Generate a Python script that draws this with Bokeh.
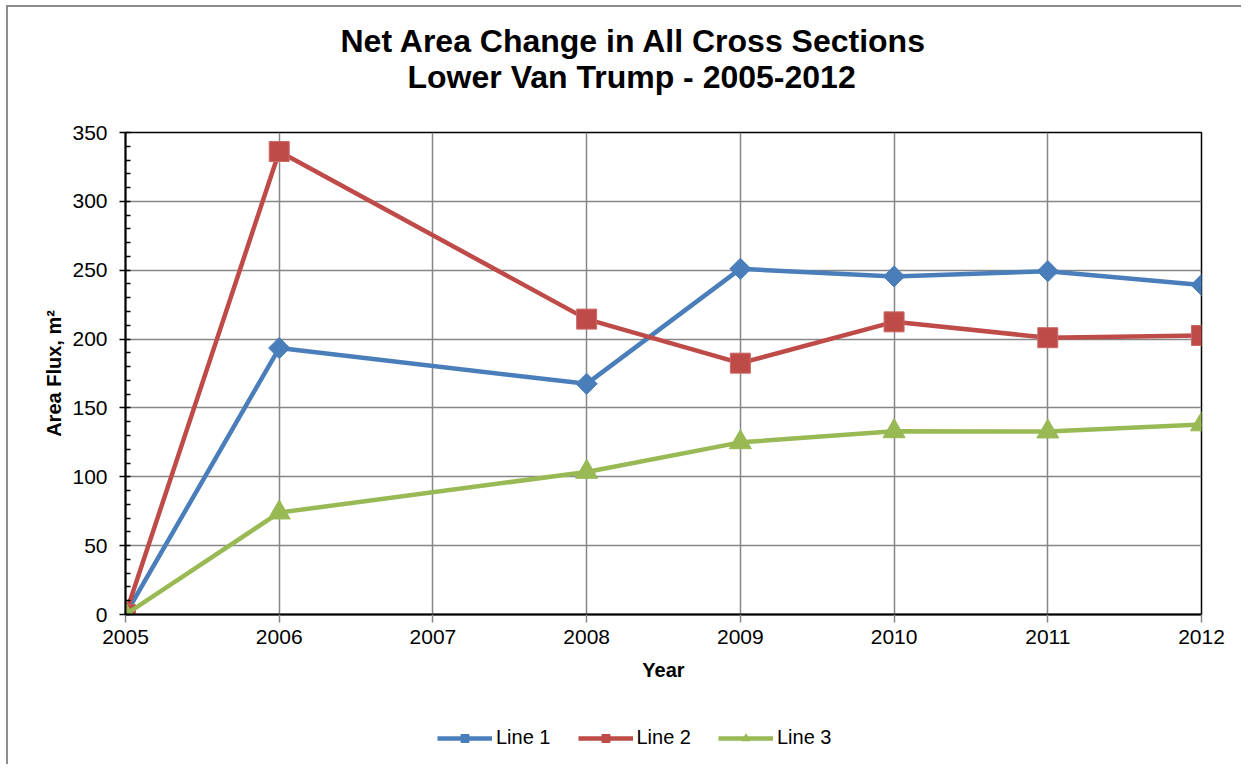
import math
from bokeh.plotting import figure
from bokeh.layouts import column
from bokeh.models import FixedTicker, SingleIntervalTicker, Legend, LegendItem, Title
from bokeh.embed import file_html
from bokeh.resources import INLINE

# ---- data ----
tick_years = [2005, 2006, 2007, 2008, 2009, 2010, 2011, 2012]
x_years = [2005, 2006, 2008, 2009, 2010, 2011, 2012]
line1 = [0, 193.5, 167.5, 251.0, 245.5, 249.3, 239.3]
line2 = [0, 336.2, 214.5, 182.5, 212.5, 201.0, 202.6]
line3 = [0, 74.0, 103.5, 125.0, 133.0, 132.8, 138.0]
series_names = ["Line 1", "Line 2", "Line 3"]
title_line1 = "Net Area Change in All Cross Sections"
title_line2 = "Lower Van Trump - 2005-2012"
x_label = "Year"
y_label = "Area Flux, m\u00b2"

FONT = "Liberation Sans"
BLUE = "#4A7EBB"
RED = "#BE4B48"
GREEN = "#98B954"
GRID = "#868686"

p = figure(frame_width=1076, frame_height=482, x_range=(2005, 2012), y_range=(0, 350),
           output_backend="svg", toolbar_location=None,
           min_border_left=117, min_border_right=40,
           min_border_top=125, min_border_bottom=80)

t2 = Title(text=title_line2 + "\n\u00a0", align="left", offset=282, text_font=FONT,
           text_font_size="32px", text_font_style="bold", text_color="black",
           text_line_height=1.0, standoff=0, vertical_align="top")
t1 = Title(text=title_line1, align="left", offset=215, text_font=FONT,
           text_font_size="32px", text_font_style="bold", text_color="black",
           standoff=0, vertical_align="bottom")
p.add_layout(t2, "above")
p.add_layout(t1, "above")

p.outline_line_color = "black"
p.outline_line_width = 1.5

p.xaxis.ticker = FixedTicker(ticks=tick_years, minor_ticks=[])
p.yaxis.ticker = SingleIntervalTicker(interval=50, num_minor_ticks=5)

for ax in (p.xaxis[0], p.yaxis[0]):
    ax.axis_line_color = "black"
    ax.axis_line_width = 2
    ax.major_label_text_font = FONT
    ax.major_label_text_font_size = "21px"
    ax.major_label_text_color = "black"
    ax.axis_label_text_font = FONT
    ax.axis_label_text_font_size = "20px"
    ax.axis_label_text_font_style = "bold"
    ax.axis_label_text_color = "black"

xa = p.xaxis[0]
xa.axis_label = x_label
xa.major_tick_line_color = GRID
xa.major_tick_line_width = 1.5
xa.major_tick_out = 8
xa.major_tick_in = 0
xa.minor_tick_line_color = None
xa.major_label_standoff = 7
xa.axis_label_standoff = 12

ya = p.yaxis[0]
ya.axis_label = y_label
ya.major_tick_line_color = "black"
ya.major_tick_line_width = 1.5
ya.major_tick_out = 6
ya.major_tick_in = 0
ya.minor_tick_line_color = "black"
ya.minor_tick_line_width = 1.5
ya.minor_tick_in = 5
ya.minor_tick_out = 0
ya.major_label_standoff = 12
ya.axis_label_standoff = 4

p.xgrid.grid_line_color = GRID
p.xgrid.grid_line_width = 1.5
p.ygrid.grid_line_color = GRID
p.ygrid.grid_line_width = 1.5

p.line(x_years, line1, line_color=BLUE, line_width=4.5)
p.scatter(x_years, line1, marker="square", angle=math.pi / 4, size=15,
          fill_color=BLUE, line_color=BLUE)
p.line(x_years, line2, line_color=RED, line_width=4.5)
p.scatter(x_years, line2, marker="square", size=20,
          fill_color=RED, line_color="#C96A67", line_width=1)
p.line(x_years, line3, line_color=GREEN, line_width=4.5)
p.scatter(x_years, line3, marker="triangle", size=22,
          fill_color=GREEN, line_color=GREEN)

# ---- legend strip below the chart (its series lie outside its empty ranges) ----
lg = figure(width=1233, height=70, x_range=(0, 1), y_range=(0, 1),
            output_backend="svg", toolbar_location=None,
            x_axis_type=None, y_axis_type=None,
            min_border=0, min_border_left=0, min_border_right=0,
            min_border_top=0, min_border_bottom=0)
lg.outline_line_color = None
items = []
for name, ys, col, mk, ang in zip(series_names, [line1, line2, line3],
                                  [BLUE, RED, GREEN],
                                  ["square", "square", "triangle"],
                                  [math.pi / 4, 0, 0]):
    r_line = lg.line(x_years, ys, line_color=col, line_width=4.5)
    r_mark = lg.scatter(x_years, ys, marker=mk, angle=ang, size=12,
                        fill_color=col, line_color=col)
    items.append(LegendItem(label=name, renderers=[r_line, r_mark]))

legend = Legend(items=items, orientation="horizontal", location=(312, 15),
                label_text_font=FONT, label_text_font_size="20px",
                label_text_color="black", glyph_width=55, glyph_height=20,
                label_height=20, label_standoff=4, spacing=27,
                padding=0, margin=0, border_line_color=None,
                background_fill_alpha=0)
lg.add_layout(legend, "center")

page = column(p, lg, spacing=0)
page.styles = {"border-left": "2px solid #8c8c8c", "border-top": "2px solid #8c8c8c",
               "margin-left": "6px", "margin-top": "5px"}

open("out.html", "w").write(file_html(page, INLINE))
